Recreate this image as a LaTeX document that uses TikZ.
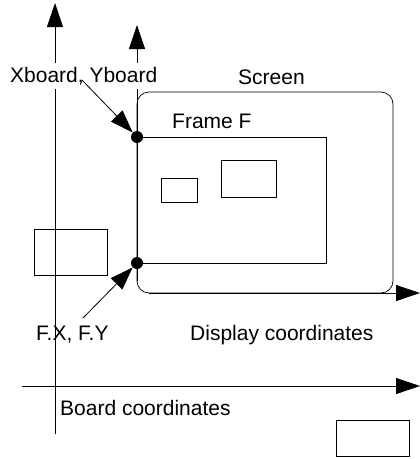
\documentclass[tikz,border=0pt]{standalone}
\usepackage{fontspec}
\setmainfont{Liberation Sans}
\usetikzlibrary{arrows.meta}
\begin{document}
\begin{tikzpicture}[x=1pt,y=-1pt,
  lbl/.style={font=\fontsize{21}{25}\selectfont, inner sep=0pt, anchor=base west},
  ax/.style={line width=0.8pt, -{Triangle[length=24pt,width=16pt]}},
  box/.style={draw, line width=0.7pt},
  dot/.style={circle, fill, inner sep=0pt, minimum size=12pt},
  ptr/.style={line width=0.8pt, -{Triangle[length=23pt,width=16pt]}}]
\useasboundingbox (0,0) rectangle (420,459);
% board axes
\coordinate (bB) at (55,434);
\coordinate (bT) at (55,3);
\coordinate (bL) at (22,386);
\coordinate (bR) at (420,386);
\draw[ax] (bB) -- (bT);
\draw[ax] (bL) -- (bR);
% display axes
\coordinate (dB) at (137,281);
\coordinate (dT) at (137,25);
\coordinate (dL) at (149,293);
\coordinate (dR) at (420,293);
\draw[ax] (dB) -- (dT);
\draw[ax] (dL) -- (dR);
% screen, frame and windows
\draw[box, rounded corners=12pt] (137,92) rectangle (393,293);
\draw[box] (137,137) rectangle (326,263);
\draw[box] (161,178) rectangle (197,202);
\draw[box] (221,160) rectangle (276,197);
\draw[box] (34,229) rectangle (107,275);
\draw[box] (336,420) rectangle (409,456);
% labels
\node[lbl, fill=white, inner ysep=4pt] (xy) at (10,82) {Xboard, Yboard};
\node[lbl] (scr) at (238,84) {Screen};
\node[lbl] (frm) at (172,128) {Frame F};
\node[lbl] (fxy) at (36,340) {F.X, F.Y};
\node[lbl] (disp) at (190,340) {Display coordinates};
\node[lbl] (brd) at (60,415) {Board coordinates};
% dots and pointers
\node[dot] (d1) at (137,137) {};
\node[dot] (d2) at (137,263) {};
\coordinate (p1) at (82,80);
\coordinate (p2) at (83,318);
\draw[ptr] (p1) -- (d1);
\draw[ptr] (p2) -- (d2);
\end{tikzpicture}
\end{document}
